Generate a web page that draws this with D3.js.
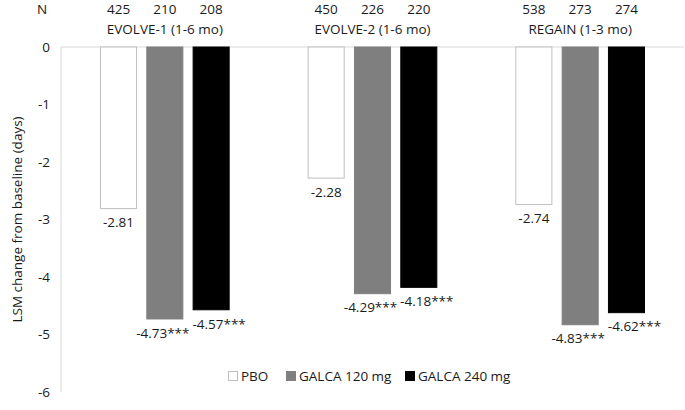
<!DOCTYPE html>
<html>
<head>
<meta charset="utf-8">
<script src="https://cdn.jsdelivr.net/npm/d3@7"></script>
<style>
  body { margin: 0; background: #fff; }
  text { font-family: "Open Sans", sans-serif; fill: #1a1a1a; font-size: 13.5px; }
</style>
</head>
<body>
<div id="chart"></div>
<script>
// data
var studies = ["EVOLVE-1 (1-6 mo)", "EVOLVE-2 (1-6 mo)", "REGAIN (1-3 mo)"];
var arms = ["PBO", "GALCA 120 mg", "GALCA 240 mg"];
var pbo = [-2.81, -2.28, -2.74];
var galca120 = [-4.73, -4.29, -4.83];
var galca240 = [-4.57, -4.18, -4.62];
var nPbo = [425, 450, 538];
var n120 = [210, 226, 273];
var n240 = [208, 220, 274];
var stars = ["", "***", "***"];
var yTicks = [0, -1, -2, -3, -4, -5, -6];

var values = [pbo, galca120, galca240];
var ns = [nPbo, n120, n240];
var fills = ["#ffffff", "#7f7f7f", "#000000"];
var strokes = ["#bfbfbf", "#7f7f7f", "#000000"];
var labelShift = [0, -2, 8];   // nudge so the starred labels don't collide

var W = 685, H = 410;
var plotL = 61, plotR = 684, plotT = 47, plotB = 392;

function fmt(v){ return v.toFixed(2); }

var svg = d3.select("#chart").append("svg").attr("width", W).attr("height", H);

var x0 = d3.scaleBand().domain(studies).range([plotL, plotR]).paddingInner(0).paddingOuter(0);
var x1 = d3.scaleBand().domain(arms).range([39, x0.bandwidth() - 39]).paddingInner(0.2);
var y = d3.scaleLinear().domain([0, -6]).range([plotT, plotB]);

// axis lines
svg.append("line").attr("x1", plotL).attr("x2", plotR).attr("y1", y(0)).attr("y2", y(0))
  .attr("stroke", "#d9d9d9").attr("stroke-width", 1);
svg.append("line").attr("x1", plotL).attr("x2", plotL).attr("y1", y(0)).attr("y2", y(-6))
  .attr("stroke", "#d9d9d9").attr("stroke-width", 1);

// y tick labels
svg.selectAll(".ytick").data(yTicks).enter().append("text")
  .attr("x", 50).attr("y", function(d){ return y(d); })
  .attr("dy", "0.35em").attr("text-anchor", "end")
  .text(function(d){ return String(d); });

svg.append("text")
  .attr("transform", "translate(17," + ((plotT + plotB) / 2) + ") rotate(-90)")
  .attr("text-anchor", "middle").attr("dy", "0.35em")
  .text("LSM change from baseline (days)");

// N row
svg.append("text").attr("x", 42).attr("y", 9).attr("dy", "0.35em")
  .attr("text-anchor", "middle").text("N");

var groups = svg.selectAll(".grp").data(studies).enter().append("g")
  .attr("transform", function(d){ return "translate(" + x0(d) + ",0)"; });

groups.append("text")
  .attr("x", x0.bandwidth() / 2).attr("y", 29).attr("dy", "0.35em")
  .attr("text-anchor", "middle")
  .text(function(d){ return d; });

groups.each(function(s, si){
  var g = d3.select(this);
  arms.forEach(function(a, ai){
    var v = values[ai][si];
    var bx = x1(a);
    g.append("rect")
      .attr("x", bx + 0.5).attr("y", y(0))
      .attr("width", x1.bandwidth() - 1).attr("height", y(v) - y(0))
      .attr("fill", fills[ai]).attr("stroke", strokes[ai]).attr("stroke-width", 1);

    g.append("text")
      .attr("x", bx + x1.bandwidth() / 2).attr("y", 9).attr("dy", "0.35em")
      .attr("text-anchor", "middle")
      .text(ns[ai][si]);

    g.append("text")
      .attr("x", bx + x1.bandwidth() / 2 + labelShift[ai]).attr("y", y(v) + 14).attr("dy", "0.35em")
      .attr("text-anchor", "middle")
      .text(fmt(v) + stars[ai]);
  });
});

// legend
var legX = [228, 286, 405];
var leg = svg.selectAll(".leg").data(arms).enter().append("g")
  .attr("transform", function(d, i){ return "translate(" + legX[i] + ",376)"; });
leg.append("rect").attr("x", 0.5).attr("y", -4.5).attr("width", 9).attr("height", 9)
  .attr("fill", function(d, i){ return fills[i]; })
  .attr("stroke", function(d, i){ return strokes[i]; });
leg.append("text").attr("x", 13).attr("y", 0).attr("dy", "0.35em")
  .text(function(d){ return d; });
</script>
</body>
</html>
